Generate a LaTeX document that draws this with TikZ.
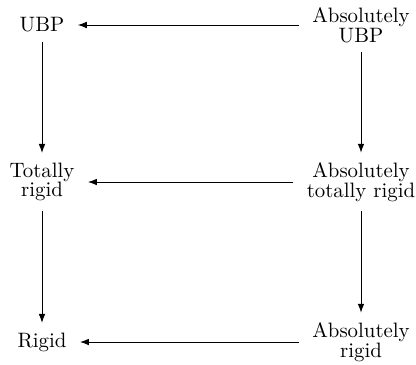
\documentclass[tikz,border=0pt]{standalone}
\usetikzlibrary{arrows.meta}
\begin{document}
\begin{tikzpicture}[x=0.48pt,y=-0.48pt,
  lbl/.style={inner xsep=6.3pt, inner ysep=4.5pt, align=center,
    font=\fontsize{10pt}{9.5pt}\selectfont},
  imp/.style={-{Latex[length=4.3pt,width=3.2pt]}, line width=0.45pt}]
\useasboundingbox (0,0) rectangle (416,364);
\node[lbl] (ubp)  at (42,25)   {UBP};
\node[lbl] (aubp) at (361,25)  {Absolutely\\UBP};
\node[lbl] (tr)   at (42,182)  {Totally\\rigid};
\node[lbl] (atr)  at (361,182) {Absolutely\\totally rigid};
\node[lbl] (r)    at (42,342)  {Rigid};
\node[lbl] (ar)   at (361,342) {Absolutely\\rigid};
\draw[imp] (aubp) -- (ubp);
\draw[imp] (atr) -- (tr);
\draw[imp] (ar) -- (r);
\draw[imp] (ubp) -- (tr);
\draw[imp] (tr) -- (r);
\draw[imp] (aubp) -- (atr);
\draw[imp] (atr) -- (ar);
\end{tikzpicture}
\end{document}
